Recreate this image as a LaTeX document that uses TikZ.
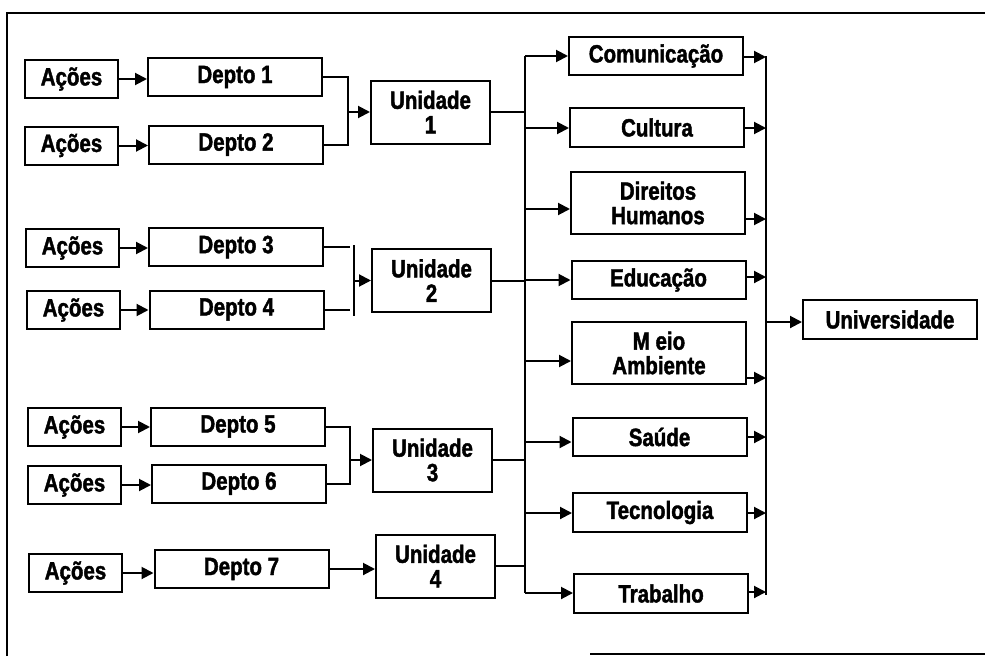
\documentclass[tikz,border=0pt]{standalone}
\usepackage{fontspec}
\setmainfont{Liberation Sans}[FakeStretch=0.82,BoldFeatures={FakeBold=1.6}]
\usetikzlibrary{arrows.meta}
\begin{document}
\begin{tikzpicture}[x=1pt,y=-1pt,
  box/.style={draw,line width=2pt,inner sep=0pt,align=center,
    font=\fontsize{25}{24.5}\selectfont\bfseries},
  acao/.style={box,minimum width=93pt,minimum height=38pt},
  depto/.style={box,minimum width=174pt,minimum height=38pt},
  unid/.style={box,minimum width=119pt,minimum height=63pt},
  area/.style={box,minimum width=174pt},
  wire/.style={line width=2pt},
  arr/.style={wire,-{Triangle[length=12pt,width=12pt]}}]
\useasboundingbox (0,0) rectangle (985,656);

% outer frame
\draw[line width=1.6pt] (7,656) -- (7,13) -- (985,13);
\draw[line width=1.6pt] (590,654) -- (985,654);

% actions
\node[acao] (a1) at (71.5,79)  {Ações};
\node[acao] (a2) at (71.5,145.5) {Ações};
\node[acao] (a3) at (72.5,248) {Ações};
\node[acao] (a4) at (73.5,310) {Ações};
\node[acao] (a5) at (74.5,427) {Ações};
\node[acao] (a6) at (74.5,485) {Ações};
\node[acao] (a7) at (75.5,573) {Ações};

% departments
\node[depto] (d1) at (235,77)    {Depto 1};
\node[depto] (d2) at (236,144.5) {Depto 2};
\node[depto] (d3) at (236,247)   {Depto 3};
\node[depto] (d4) at (236.5,309.5) {Depto 4};
\node[depto] (d5) at (238,426.5) {Depto 5};
\node[depto] (d6) at (239,483.5) {Depto 6};
\node[depto] (d7) at (241.5,569) {Depto 7};

% units
\node[unid] (u1) at (430.5,112)   {Unidade\\1};
\node[unid] (u2) at (431.5,280.5) {Unidade\\2};
\node[unid] (u3) at (432.5,460)   {Unidade\\3};
\node[unid] (u4) at (435.5,566)   {Unidade\\4};

% thematic areas
\node[area,minimum height=38pt] (com) at (656,56)    {Comunicação};
\node[area,minimum height=39pt] (cul) at (657,127.5) {Cultura};
\node[area,minimum height=62pt] (dh)  at (658,203)   {Direitos\\Humanos};
\node[area,minimum height=38pt] (edu) at (658.5,280) {Educação};
\node[area,minimum height=62pt] (ma)  at (659,353)   {M eio\\Ambiente};
\node[area,minimum height=38pt] (sau) at (659.5,437) {Saúde};
\node[area,minimum height=39pt] (tec) at (660,512.5) {Tecnologia};
\node[area,minimum height=39pt] (tra) at (661,593.5) {Trabalho};

\node[area,minimum height=39pt] (univ) at (890,319.5) {Universidade};

% actions to departments
\foreach \i in {1,...,7}
  \draw[arr] (a\i.east) -- (a\i.east -| d\i.west);

% departments to units
\coordinate (j1) at (348,112);
\draw[wire] (d1.east) -| (j1) |- (d2.east);
\draw[arr] (j1) -- (u1.west);

\coordinate (j2) at (354,280.5);
\draw[wire] (d3.east) -- (d3.east -| 350,0);
\draw[wire] (d4.east) -- (d4.east -| 350,0);
\draw[wire] (354,245) -- (354,316);
\draw[arr] (j2) -- (u2.west);

\coordinate (j3) at (350,460);
\draw[wire] (d5.east) -| (j3) |- (d6.east);
\draw[arr] (j3) -- (u3.west);

\draw[arr] (d7.east) -- (d7.east -| u4.west);

% left bus: units to areas
\coordinate (lt) at (525,56);
\coordinate (lb) at (525,593);
\draw[wire] (lt) -- (lb);
\foreach \u in {u1,u2,u3,u4}
  \draw[wire] (\u.east) -- (\u.east -| lt);
\foreach \b/\y in {com/56,cul/128,dh/209,edu/280,ma/361,sau/442,tec/513,tra/593}{
  \coordinate (l\b) at (525,\y);
  \draw[arr] (l\b) -- (l\b -| \b.west);
}

% right bus: areas to university
\coordinate (rt) at (766,56);
\coordinate (rb) at (766,595);
\draw[wire] (rt) -- (rb);
\foreach \b/\y in {com/57,cul/128,dh/219,edu/277,ma/378,sau/437,tec/513,tra/592}{
  \coordinate (r\b) at (766,\y);
  \draw[arr] (r\b -| \b.east) -- (r\b);
}
\coordinate (ru) at (766,322);
\draw[arr] (ru) -- (ru -| univ.west);
\end{tikzpicture}
\end{document}
